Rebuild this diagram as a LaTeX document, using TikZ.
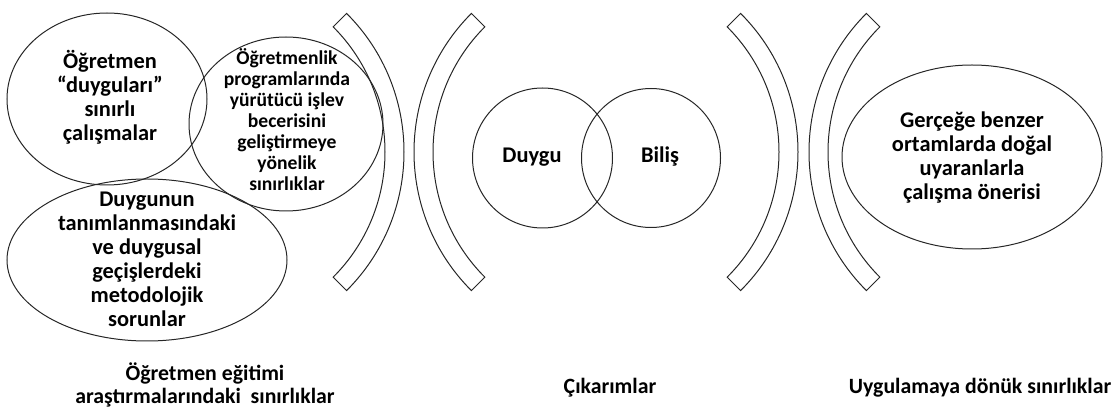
\documentclass[tikz,border=0pt]{standalone}
\usepackage{fontspec}
\setmainfont{Carlito}
\usetikzlibrary{shapes.geometric,calc}
\tikzset{
  outline/.style={draw=black!85, line width=1pt},
  oval/.style={outline, ellipse, inner sep=0pt},
  txt/.style={align=center, inner sep=0pt, font=\bfseries\fontsize{22.4}{24}\selectfont},
  smalltxt/.style={align=center, inner sep=0pt, font=\bfseries\fontsize{19.6}{21}\selectfont},
  caption/.style={align=center, inner sep=0pt, font=\bfseries\fontsize{21.8}{23}\selectfont},
}
% annular sector used as a bracket: centre, first angle, second angle
\newcommand{\bracketband}[3]{%
  \draw[outline] ($(#1)+(#2:196)$) arc[start angle=#2, end angle=#3, radius=196]
    -- ($(#1)+(#3:177)$) arc[start angle=#3, end angle=#2, radius=177] -- cycle;}
\begin{document}
\begin{tikzpicture}[x=1pt,y=1pt]
\useasboundingbox (0,0) rectangle (1120,410);

% left group of limitations
\node[oval, minimum width=200pt, minimum height=172pt] (e1) at (107,311) {};
\node[oval, minimum width=194pt, minimum height=174pt] (e2) at (286,286) {};
\node[oval, minimum width=280pt, minimum height=162pt] (e3) at (147,150) {};
\node[txt] (t1) at (110,313) {Öğretmen\\“duyguları”\\sınırlı\\çalışmalar};
\node[smalltxt] (t2) at (287,290) {Öğretmenlik\\programlarında\\yürütücü işlev\\becerisini\\geliştirmeye\\yönelik\\sınırlıklar};
\node[txt] (t3) at (147,151) {Duygunun\\tanımlanmasındaki\\ve duygusal\\geçişlerdeki\\metodolojik\\sorunlar};

% brackets
\coordinate (b1) at (208,258);
\coordinate (b2) at (610,258);
\coordinate (b3) at (602,258);
\coordinate (b4) at (1005,258);
\bracketband{b1}{-45}{45}
\bracketband{b2}{135}{225}
\bracketband{b3}{-45}{45}
\bracketband{b4}{135}{225}

% emotion / cognition
\node[outline, circle, minimum size=140pt, inner sep=0pt] (duygu) at (542.5,252) {};
\node[outline, circle, minimum size=139pt, inner sep=0pt] (bilis) at (651,252) {};
\node[txt] (td) at (532,253) {Duygu};
\node[txt] (tb) at (660,253) {Biliş};

% practical limitation
\node[oval, minimum width=260pt, minimum height=184pt] (e4) at (972,253) {};
\node[txt] (t4) at (972,252) {Gerçeğe benzer\\ortamlarda doğal\\uyaranlarla\\çalışma önerisi};

% captions
\node[caption] (c1) at (205,25) {Öğretmen eğitimi\\araştırmalarındaki\ \ sınırlıklar};
\node[caption] (c2) at (610,22) {Çıkarımlar};
\node[caption] (c3) at (980,22) {Uygulamaya dönük sınırlıklar};
\end{tikzpicture}
\end{document}
